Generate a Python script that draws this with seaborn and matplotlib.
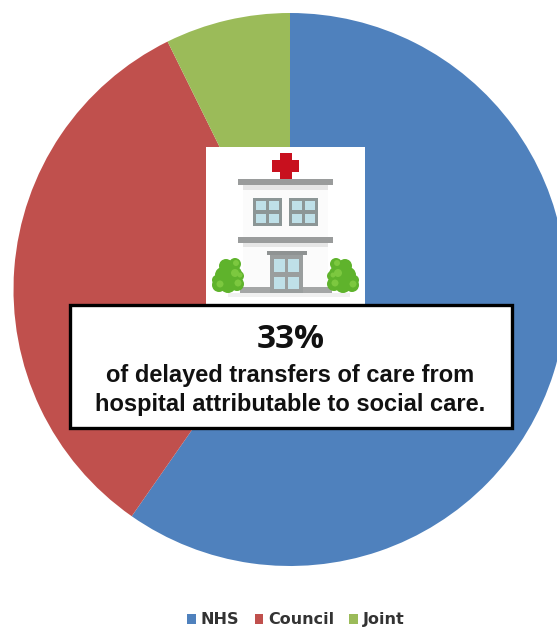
import matplotlib
matplotlib.use("Agg")
import matplotlib.pyplot as plt
from matplotlib.patches import Rectangle, Circle
from matplotlib.transforms import Affine2D
import seaborn as sns

sns.set_theme(style="white")

# Delayed transfers of care by responsible organisation (%)
categories = ["NHS", "Council", "Joint"]
shares = [59.7, 33.0, 7.3]
colors = ["#4F81BD", "#C0504D", "#9BBB59"]
headline = "33%"
caption = "of delayed transfers of care from\nhospital attributable to social care."

WIDTH, HEIGHT = 557, 627
fig = plt.figure(figsize=(WIDTH / 100, HEIGHT / 100), dpi=100, facecolor="white")
ax = fig.add_axes([0, 0, 1, 1])


def flip(y):
    """Convert a top-down pixel row into the axes' bottom-up coordinate."""
    return HEIGHT - y


def box(x0, y0, x1, y1, color, z=3, **kw):
    ax.add_patch(Rectangle((x0, flip(y1)), x1 - x0, y1 - y0, facecolor=color,
                           edgecolor=kw.pop("edgecolor", "none"), zorder=z, **kw))


wedges, _ = ax.pie(shares, colors=colors, startangle=90, counterclock=False,
                   center=(290, flip(289.5)), radius=276.5, frame=True,
                   wedgeprops={"edgecolor": "none", "linewidth": 0})
ax.set_xlim(0, WIDTH)
ax.set_ylim(0, HEIGHT)
ax.set_aspect("equal")
ax.axis("off")

# Hospital icon on a white card
box(206, 147, 365, 304, "white")
box(243, 185, 328, 238, "#FBFBFB", z=4)
box(243, 185, 328, 190, "#E6E6E6", z=4)
box(243, 243, 328, 288, "#FBFBFB", z=4)
box(243, 243, 328, 247, "#E6E6E6", z=4)
box(238, 179, 333, 185, "#9A9C9C", z=5)
box(238, 237, 333, 243, "#9A9C9C", z=5)
box(228, 293, 350, 297, "#F0F0F0", z=4)
box(240, 287, 332, 293, "#A4A6A6", z=5)

# Red cross
box(280, 153, 292, 179, "#C8101E", z=6)
box(272, 160, 299, 172, "#C8101E", z=6)

# Upper windows
for left in (253, 289):
    box(left, 198, left + 29, 226, "#8C9696", z=6)
    for dx in (3, 16):
        for dy in (3, 16):
            box(left + dx, 198 + dy, left + dx + 10, 198 + dy + 9, "#BFE0E8", z=7)

# Entrance
box(267, 251, 307, 255, "#8F9393", z=7)
box(270, 255, 303, 293, "#9A9E9E", z=6)
for dx in (4, 18):
    for top, bottom in ((259, 272), (277, 289)):
        box(270 + dx, top, 270 + dx + 11, bottom, "#BFE0E8", z=7)

# Shrubs either side of the entrance
shrub_dots = [(-9, 27, 7), (0, 27, 8), (9, 26, 7), (-5, 17, 8), (6, 16, 8),
              (-2, 8, 7), (7, 6, 6), (-11, 22, 5), (11, 18, 5)]
for cx, sign in ((228, 1), (343, -1)):
    for dx, dy, r in shrub_dots:
        ax.add_patch(Circle((cx + sign * dx, flip(258 + dy)), r, facecolor="#5FB32C",
                            edgecolor="none", zorder=8))
    for dx, dy, r in shrub_dots[::2]:
        ax.add_patch(Circle((cx + sign * dx + 1, flip(258 + dy - 1)), r * 0.5,
                            facecolor="#7CC83F", edgecolor="none", zorder=9))

# Call-out box
box(70, 305, 512, 428, "white", z=10, edgecolor="black", linewidth=2.4)
ax.text(291, flip(340), headline, ha="center", va="center", fontsize=24,
        family="Open Sans", fontweight="bold", color="#111111", zorder=11)
ax.text(290, flip(390), caption, ha="center", va="center", fontsize=17,
        family="Liberation Sans", fontweight="bold", color="#111111",
        linespacing=1.28, zorder=11)

# Legend along the bottom edge
legend = ax.legend(wedges, categories, loc="center",
                   bbox_to_anchor=(296 / WIDTH, 1 - 620 / HEIGHT),
                   ncol=3, frameon=False, handlelength=0.55, handleheight=0.55,
                   handletextpad=0.3, columnspacing=0.95, borderpad=0, labelcolor="#333333",
                   prop={"family": "DejaVu Sans", "weight": "bold", "size": 11.5})

# The J descender drops the last label's line box slightly; bring it back to the shared baseline
joint_label = legend.get_texts()[2]
joint_label.set_transform(Affine2D().translate(0, 0.5) + joint_label.get_transform())

fig.savefig("out.png", dpi=100, facecolor="white")
